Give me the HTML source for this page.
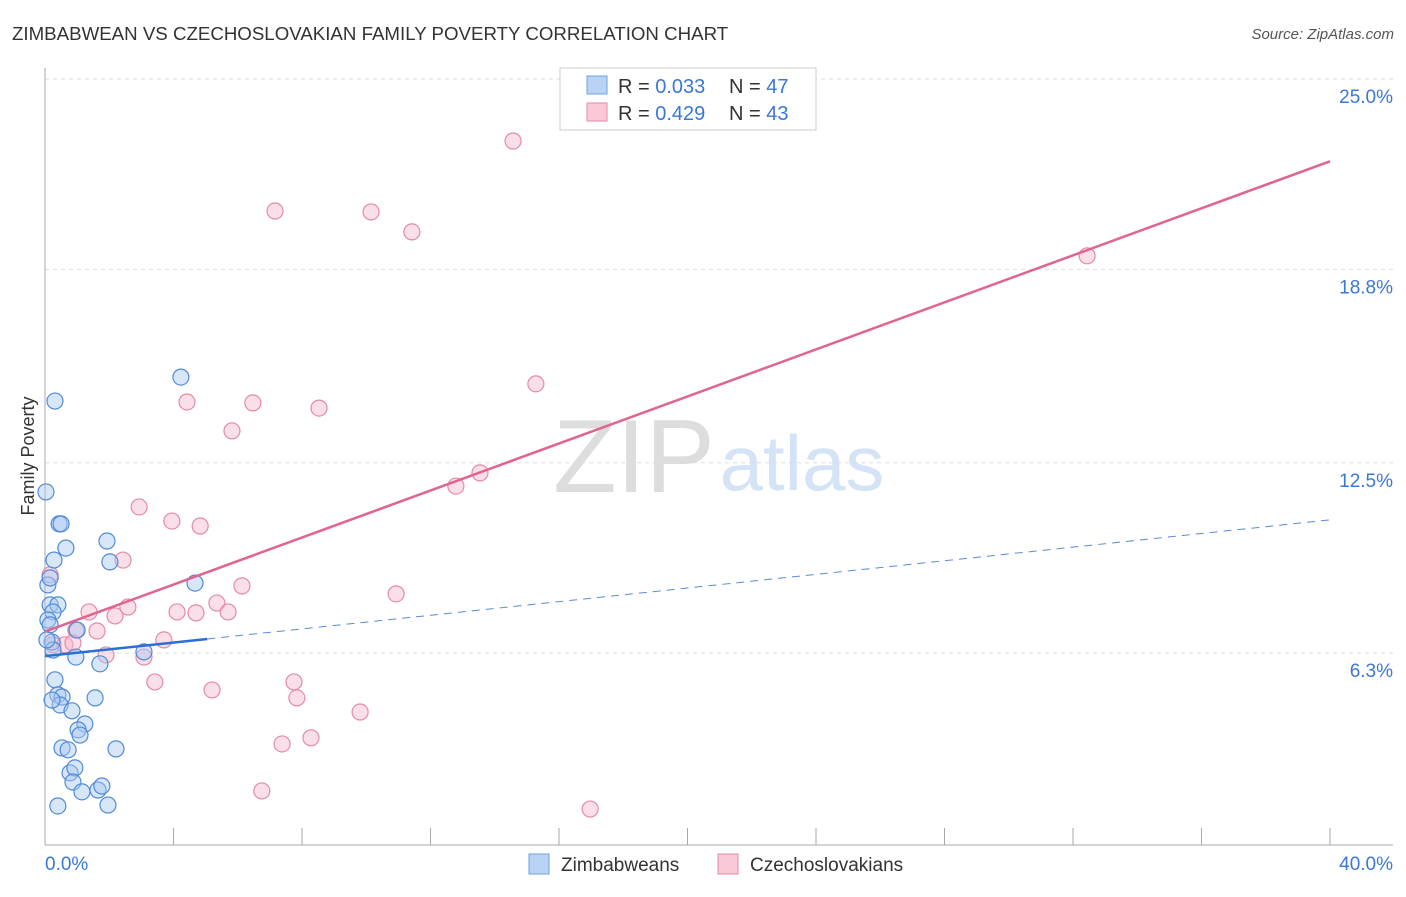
<!DOCTYPE html>
<html><head><meta charset="utf-8"><style>
body{margin:0;background:#fff;font-family:"Liberation Sans",sans-serif;}
svg text{font-family:"Liberation Sans",sans-serif;}
</style></head><body>
<svg id="chart" width="1406" height="892">
<text x="12" y="40" font-size="18.7" fill="#333">ZIMBABWEAN VS CZECHOSLOVAKIAN FAMILY POVERTY CORRELATION CHART</text>
<text x="1394" y="39" font-size="15" fill="#555" font-style="italic" text-anchor="end">Source: ZipAtlas.com</text>
<text x="634" y="492" font-size="104" fill="#ddd" font-family="Liberation Serif" text-anchor="middle">ZIP</text>
<text x="802" y="490" font-size="78" fill="#d4e3f5" text-anchor="middle">atlas</text>
<text x="34" y="456" font-size="18" fill="#333" text-anchor="middle" transform="rotate(-90 34 456)">Family Poverty</text>
<g id="grid"></g><g id="marks"></g>
<g>
<rect x="560" y="68" width="256" height="62" fill="#fff" stroke="#ccc"/>
<rect x="587" y="76" width="20" height="18" fill="#b9d3f5" stroke="#6fa0e0"/>
<rect x="587" y="103" width="20" height="18" fill="#f9c9d6" stroke="#e58aa6"/>
<text x="618" y="93" font-size="20" fill="#333">R = <tspan fill="#3a78d6">0.033</tspan></text>
<text x="729" y="93" font-size="20" fill="#333">N = <tspan fill="#3a78d6">47</tspan></text>
<text x="618" y="120" font-size="20" fill="#333">R = <tspan fill="#3a78d6">0.429</tspan></text>
<text x="729" y="120" font-size="20" fill="#333">N = <tspan fill="#3a78d6">43</tspan></text>
</g>
<g>
<rect x="529" y="854" width="20" height="20" fill="#b9d3f5" stroke="#6fa0e0"/>
<text x="561" y="871" font-size="19" fill="#333">Zimbabweans</text>
<rect x="718" y="854" width="20" height="20" fill="#f9c9d6" stroke="#e58aa6"/>
<text x="750" y="871" font-size="19" fill="#333">Czechoslovakians</text>
</g>
</svg>
<script>
const yTicks=[25.0,18.8,12.5,6.3];
const yTickLabels=["25.0%","18.8%","12.5%","6.3%"];
const xTickLabels=["0.0%","40.0%"];
const blueX=[4.23,0.31,0.03,0.44,0.50,0.65,1.93,2.02,0.28,4.67,0.09,0.16,0.16,0.40,0.25,0.09,0.16,1.00,0.22,3.08,0.96,1.71,0.31,0.40,0.53,1.56,0.47,0.84,1.24,1.03,1.09,0.53,0.72,2.21,0.78,0.93,0.87,1.15,1.65,1.77,1.96,0.40,0.25,0.06,0.22];
const blueY=[15.29,14.51,11.55,10.51,10.51,9.72,9.95,9.27,9.33,8.58,8.52,8.75,7.87,7.87,7.64,7.38,7.22,7.05,6.66,6.34,6.17,5.95,5.43,4.94,4.87,4.84,4.61,4.42,3.99,3.80,3.63,3.21,3.15,3.18,2.40,2.56,2.10,1.78,1.84,1.97,1.35,1.32,6.40,6.73,4.77];
const pinkX=[14.57,7.16,10.15,11.42,32.44,15.28,4.42,6.47,8.53,5.82,13.54,12.79,2.93,3.95,4.83,2.43,6.13,10.93,5.35,1.37,2.58,4.11,4.70,5.70,2.18,0.96,1.62,0.25,0.62,0.87,3.70,1.90,3.08,3.42,5.20,7.75,7.84,9.81,7.38,8.28,6.75,16.97,0.16];
const pinkY=[22.98,20.70,20.67,20.02,19.24,15.07,14.48,14.45,14.28,13.54,12.17,11.74,11.06,10.60,10.44,9.33,8.49,8.23,7.93,7.64,7.80,7.64,7.61,7.64,7.51,7.05,7.02,6.57,6.57,6.63,6.73,6.24,6.17,5.36,5.10,5.36,4.84,4.38,3.34,3.54,1.81,1.22,8.85];
// trend lines as shown in chart: [intercept, slope]
const blueTrend=[6.2,0.111];
const pinkTrend=[7.0,0.383];
const blueSolidEnd=[5.05];
const NS='http://www.w3.org/2000/svg';
const X0=45,X1=1330,Y25=79,PX=30.7;
const sx=v=>X0+v/40*(X1-X0), sy=v=>Y25+(25-v)*PX;
function mk(t,a,p){const e=document.createElementNS(NS,t);for(const k in a)e.setAttribute(k,a[k]);p.appendChild(e);return e;}
const grid=document.getElementById('grid'),marks=document.getElementById('marks');
yTicks.forEach((v,i)=>{
 const l=mk('line',{x1:45,x2:1393,y1:sy(v),y2:sy(v),stroke:'#ddd','stroke-dasharray':'4,4'},grid);
 
 
 const t=mk('text',{x:1393,y:sy(v)+24,'font-size':19,fill:'#3a78d6','text-anchor':'end'},grid);t.textContent=yTickLabels[i];
 
 
});
mk('line',{x1:45,x2:45,y1:68,y2:845,stroke:'#aaa'},grid);
mk('line',{x1:45,x2:1393,y1:845,y2:845,stroke:'#aaa'},grid);
for(let i=0;i<=10;i++){const x=sx(i*4);const tk=mk('line',{x1:x,x2:x,y1:828,y2:845,stroke:'#aaa'},grid);
 
 }
let t0=mk('text',{x:45,y:870,'font-size':19,fill:'#3a78d6'},grid);t0.textContent=xTickLabels[0];


let t1=mk('text',{x:1393,y:870,'font-size':19,fill:'#3a78d6','text-anchor':'end'},grid);t1.textContent=xTickLabels[1];


function pts(xs,ys,fill,stroke,name){xs.forEach((x,i)=>{const c=mk('circle',{cx:sx(x),cy:sy(ys[i]),r:8,fill:fill,'fill-opacity':0.45,stroke:stroke,'stroke-width':1.2},marks);
 
 });}
pts(pinkX,pinkY,'#f7b8cb','#e58aa6','czechoslovakian-point');
pts(blueX,blueY,'#a9c8f2','#4f8ad8','zimbabwean-point');
const [bi,bs]=blueTrend,[pi,ps]=pinkTrend;
const bmax=blueSolidEnd[0];
let l1=mk('line',{x1:sx(0),y1:sy(bi),x2:sx(bmax),y2:sy(bi+bs*bmax),stroke:'#2a6fd6','stroke-width':2.5},marks);


let l2=mk('line',{x1:sx(bmax),y1:sy(bi+bs*bmax),x2:sx(40),y2:sy(bi+bs*40),stroke:'#5a8ad6','stroke-width':1,'stroke-dasharray':'8,6'},marks);


let l3=mk('line',{x1:sx(0),y1:sy(pi),x2:sx(40),y2:sy(pi+ps*40),stroke:'#e0648d','stroke-width':2.5},marks);


</script>
</body></html>
